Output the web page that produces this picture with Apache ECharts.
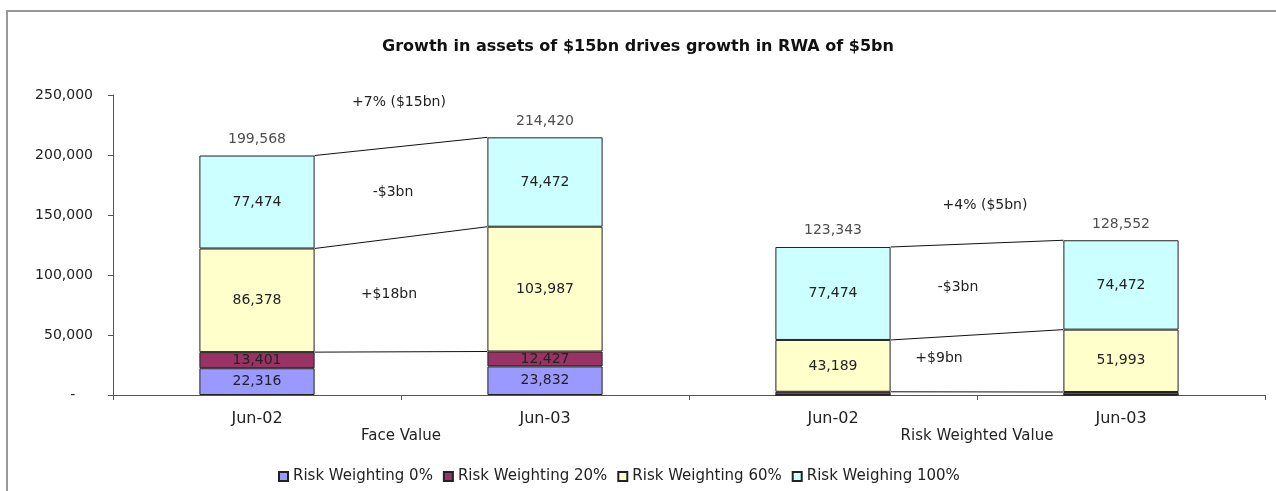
<!DOCTYPE html>
<html><head><meta charset="utf-8">
<script src="https://cdn.jsdelivr.net/npm/echarts@6/dist/echarts.min.js"></script>
<style>html,body{margin:0;padding:0;background:#fff}#c{width:1276px;height:491px}</style>
</head><body><div id="c"></div>
<script>
// ---- data ----
const categories = ['Jun-02', 'Jun-03', 'Jun-02', 'Jun-03'];
const groups = ['Face Value', 'Risk Weighted Value'];
const seriesNames = ['Risk Weighting 0%', 'Risk Weighting 20%', 'Risk Weighting 60%', 'Risk Weighing 100%'];
const rw0 = [22316, 23832, 0, 0];
const rw20 = [13401, 12427, 2680, 2485];
const rw60 = [86378, 103987, 43189, 51993];
const rw100 = [77474, 74472, 77474, 74472];
const totals = [199568, 214420, 123343, 128552];
const changeLabels = [['+7% ($15bn)', '-$3bn', '+$18bn'], ['+4% ($5bn)', '-$3bn', '+$9bn']];
const yMax = 250000, yStep = 50000;

// ---- style ----
const FONT = 'DejaVu Sans';
const colors = ['#9999FF', '#993366', '#FFFFCC', '#CCFFFF'];
const textOffsets = [[[-2, -44], [-8, 0], [-12, 0]], [[8, -38], [-19, -2], [-38, -5]]];
const fmt = v => Number(v).toLocaleString('en-US');

const seriesData = [rw0, rw20, rw60, rw100];
const stackTops = categories.map((c, i) => {
  let s = 0; return seriesData.map(arr => (s += arr[i]));
});

const chart = echarts.init(document.getElementById('c'), null, {renderer: 'canvas'});

const barSeries = seriesNames.map((name, k) => ({
  name, type: 'bar', stack: 'a', barWidth: '40%', xAxisIndex: 0,
  data: seriesData[k],
  itemStyle: {color: colors[k], borderColor: '#222', borderWidth: 1},
  label: {
    show: true, position: 'inside', fontFamily: FONT, fontSize: 14, color: '#222',
    formatter: p => (p.value >= 5000 ? fmt(p.value) : '')
  },
  emphasis: {disabled: true}
}));

const option = {
  animation: false,
  backgroundColor: '#fff',
  graphic: [{
    type: 'rect', shape: {x: 7, y: 11, width: 1320, height: 500},
    style: {fill: 'none', stroke: '#999', lineWidth: 2}, silent: true
  }],
  title: {
    text: 'Growth in assets of $15bn drives growth in RWA of $5bn',
    left: 'center', top: 34,
    textStyle: {fontFamily: FONT, fontSize: 16, fontWeight: 'bold', color: '#111'}
  },
  legend: {
    data: seriesNames, left: 273, top: 464, icon: 'rect', itemWidth: 9, itemHeight: 9, itemGap: 10,
    textStyle: {fontFamily: FONT, fontSize: 15, color: '#222'}
  },
  grid: {left: 113, right: 11, top: 95, bottom: 96, containLabel: false, outerBoundsMode: 'none'},
  xAxis: [{
    type: 'category', data: categories, position: 'bottom',
    axisLine: {lineStyle: {color: '#555', width: 1}},
    axisTick: {show: true, length: 5, lineStyle: {color: '#555'}},
    axisLabel: {margin: 16, fontFamily: FONT, fontSize: 16, color: '#222'}
  }, {
    type: 'category', data: groups, position: 'bottom',
    axisLine: {show: false}, axisTick: {show: false},
    axisLabel: {margin: 34, fontFamily: FONT, fontSize: 15, color: '#222'}
  }],
  yAxis: {
    type: 'value', min: 0, max: yMax, interval: yStep,
    axisLine: {show: true, lineStyle: {color: '#555'}},
    axisTick: {show: true, length: 5, lineStyle: {color: '#555'}},
    splitLine: {show: false},
    axisLabel: {margin: 20, fontFamily: FONT, fontSize: 14, color: '#222',
      formatter: v => (v === 0 ? '-    ' : fmt(v))}
  },
  series: [
    ...barSeries,
    {
      name: 'totals', type: 'scatter', xAxisIndex: 0, data: totals,
      symbolSize: 1, itemStyle: {color: 'rgba(0,0,0,0)'},
      label: {show: true, position: 'top', distance: 9, fontFamily: FONT, fontSize: 14, color: '#222',
        formatter: p => fmt(p.value)},
      silent: true, z: 5
    },
    {
      name: 'changes', type: 'custom', xAxisIndex: 0, clip: false, silent: true, z: 4,
      data: groups.map((g, i) => [i * 2, 0, i]),
      encode: {x: 0, y: 1},
      renderItem: (params, api) => {
        const g = api.value(2);
        const a = g * 2, b = g * 2 + 1;
        const band = api.size([1, 0])[0];
        const half = band * 0.4 / 2;
        const ca = api.coord([a, 0])[0], cb = api.coord([b, 0])[0];
        const xa = ca + half, xb = cb - half;
        const children = [];
        for (let k = 1; k < 4; k++) {
          const ya = api.coord([a, stackTops[a][k]])[1];
          const yb = api.coord([b, stackTops[b][k]])[1];
          children.push({type: 'line', shape: {x1: xa, y1: ya, x2: xb, y2: yb},
            style: {stroke: '#111', lineWidth: 1}});
        }
        const mid = k => (stackTops[a][k] + stackTops[b][k]) / 2;
        const xm = (ca + cb) / 2;
        const vals = [mid(3), (mid(3) + mid(2)) / 2, (mid(2) + mid(1)) / 2];
        changeLabels[g].forEach((t, j) => {
          const y = api.coord([a, vals[j]])[1];
          const off = textOffsets[g][j];
          children.push({type: 'text', x: xm + off[0], y: y + off[1],
            style: {text: t, font: '14px "' + FONT + '"', fill: '#222', align: 'center', verticalAlign: 'middle'}});
        });
        return {type: 'group', children};
      }
    }
  ]
};
chart.setOption(option);
</script></body></html>
